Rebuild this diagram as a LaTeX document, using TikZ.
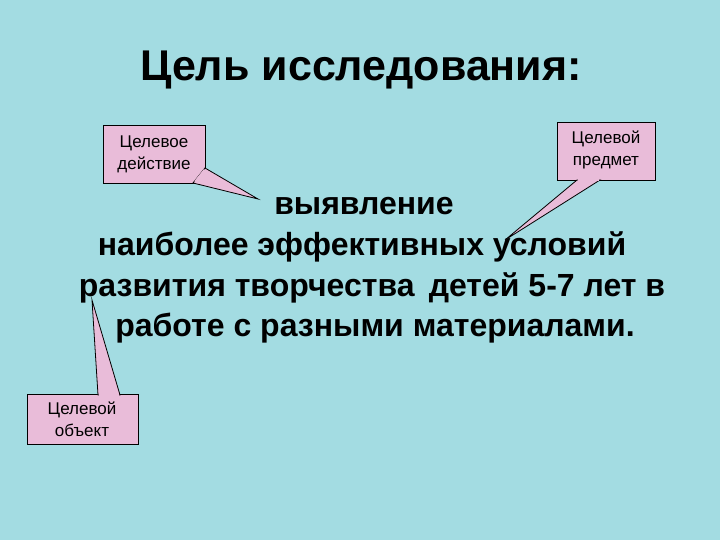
\documentclass[tikz,border=0pt]{standalone}
\usepackage{fontspec}
\setmainfont{Liberation Sans}
\definecolor{bg}{HTML}{A3DCE2}
\definecolor{pk}{HTML}{E9BCD9}
\begin{document}
\begin{tikzpicture}[x=1pt,y=-1pt,
 callout/.style={draw=black,line width=0.8pt,fill=pk},
 ctext/.style={font=\fontsize{17}{22}\selectfont,align=center},
 mtext/.style={font=\bfseries\fontsize{32}{36}\selectfont}]
\fill[bg] (0,0) rectangle (720,540);
\useasboundingbox (0,0) rectangle (720,540);
\node[font=\bfseries\fontsize{43}{48}\selectfont] (title) at (361,70) {Цель исследования:};
\node[mtext] (l1) at (364,206) {выявление};
\node[mtext] (l2) at (362,247) {наиболее эффективных условий};
\node[mtext] (l3) at (372,288) {развития творчества\, детей 5-7 лет в};
\node[mtext] (l4) at (375,328) {работе с разными материалами.};
% callout 1
\filldraw[callout] (103,125) rectangle (205,183);
\filldraw[callout] (193,183) -- (205,168) -- (258,199) -- cycle;
\fill[pk] (194,181.5) -- (204,181.5) -- (204,169) -- cycle;
\node[ctext] (c1) at (154,154) {Целевое\\действие};
% callout 2
\filldraw[callout] (557,122) rectangle (655,180);
\filldraw[callout] (577,180) -- (600,180) -- (505,240) -- cycle;
\fill[pk] (578,178.5) rectangle (599,181);
\node[ctext] (c2) at (606,150) {Целевой\\предмет};
% callout 3
\filldraw[callout] (27,394) rectangle (138,444);
\filldraw[callout] (98,395) -- (120,395) -- (92,300) -- cycle;
\fill[pk] (99,393) rectangle (119,396);
\node[ctext] (c3) at (82,419) {Целевой\\объект};
\end{tikzpicture}
\end{document}
